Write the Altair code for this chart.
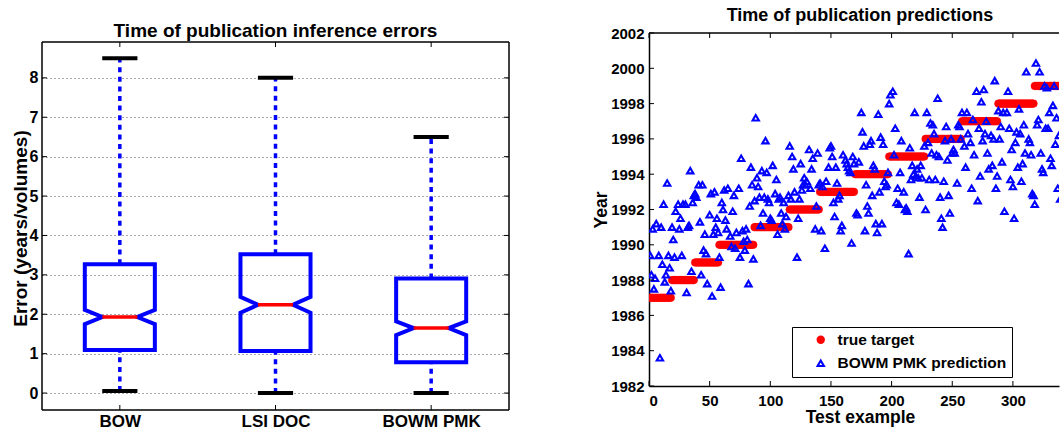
import json
import altair as alt
import pandas as pd

FONT = "Liberation Sans"
BLUE = "#0000ff"
RED = "#ff0000"

# ---------------- Left panel: notched box plot statistics ----------------
methods = ["BOW", "LSI DOC", "BOWM PMK"]
method_pos = [1, 2, 3]
whisker_low = [0.05, 0.0, 0.0]
quart1 = [1.09, 1.07, 0.78]
medians = [1.93, 2.24, 1.65]
quart3 = [3.27, 3.52, 2.91]
whisker_high = [8.5, 8.0, 6.5]
notch_low = [1.75, 2.04, 1.47]
notch_high = [2.11, 2.44, 1.82]
error_ticks = [0, 1, 2, 3, 4, 5, 6, 7, 8]

# ---------------- Right panel: targets and predictions ----------------
series_names = ["true target", "BOWM PMK prediction"]
target_years = [1987, 1988, 1989, 1990, 1991, 1992, 1993, 1994, 1995, 1996, 1997, 1998, 1999]
target_first = [1, 19, 38, 58, 87, 116, 141, 170, 198, 228, 258, 288, 318]
target_last = [18, 37, 57, 86, 115, 140, 169, 197, 227, 257, 287, 317, 348]

pred_x = [
    1, 2, 3, 4, 5, 6, 8, 9, 10, 11, 12, 13, 14, 15, 16, 17, 18, 19, 20, 21,
    22, 24, 25, 26, 27, 28, 30, 31, 32, 33, 34, 35, 36, 37, 38, 39, 41, 42, 43, 44,
    45, 46, 47, 48, 50, 51, 52, 53, 54, 55, 56, 57, 58, 59, 60, 61, 62, 63, 64,
    65, 67, 68, 69, 70, 71, 72, 74, 75, 76, 77, 78, 79, 80, 81, 82, 83, 84, 85, 86, 87, 88, 89, 90, 91,
    92, 93, 94, 95, 96, 97, 98, 99, 100, 101, 102, 104, 105, 106, 107, 108, 109, 110, 111, 112, 113, 115, 116, 117,
    118, 119, 120, 122, 123, 124, 125, 126, 127, 128, 129, 130, 132, 133, 134, 135, 137, 138, 139, 140, 141, 142,
    143, 145, 146, 148, 149, 150, 151, 152, 153, 154, 155, 156, 157, 158, 159, 160, 162, 163, 164, 165, 166, 167, 168, 169, 171, 172,
    173, 175, 176, 177, 178, 179, 180, 181, 182, 183, 184, 185, 186, 187, 188, 189, 190, 191, 192, 193, 194, 195, 196, 197, 198, 199, 201,
    202, 203, 204, 205, 206, 207, 208, 210, 211, 212, 213, 214, 215, 216, 217, 218, 219, 220, 221, 222, 223, 224, 225, 227, 228, 229,
    230, 231, 232, 233, 234, 235, 236, 237, 238, 239, 240, 241, 242, 243, 244, 245, 246, 247, 248, 249, 250, 251, 252, 254, 255, 256, 257, 258,
    260, 261, 262, 263, 265, 266, 267, 268, 270, 271, 272, 273, 274, 275, 276, 277, 278, 279, 280, 282, 283, 284, 285, 286, 287, 288, 289,
    290, 291, 292, 293, 295, 296, 297, 298, 299, 300, 301, 302, 303, 304, 305, 306, 307, 308, 309, 310, 311, 313, 314, 315, 316, 317, 318, 319,
    320, 321, 322, 323, 324, 325, 326, 327, 328, 329, 330, 331, 332, 333, 334, 335, 336, 337, 338, 339,
]
pred_year = [
    1989.4, 1988.3, 1990.9, 1987.5, 1988.1, 1991.2, 1989.4, 1983.6, 1991.0, 1988.9, 1992.3, 1987.9, 1988.3, 1993.5, 1989.4, 1988.7, 1987.4, 1991.0, 1990.3, 1989.3,
    1991.9, 1992.3, 1990.9, 1991.5, 1989.4, 1992.3, 1992.3, 1987.3, 1991.0, 1991.1, 1994.2, 1988.5, 1992.4, 1992.8, 1992.9, 1992.7, 1993.4, 1991.3, 1988.3, 1993.4,
    1989.7, 1990.6, 1989.5, 1987.8, 1991.7, 1992.9, 1987.1, 1990.6, 1993.0, 1991.0, 1991.5, 1990.7, 1989.3, 1987.6, 1992.4, 1992.0, 1993.1, 1991.4, 1990.9,
    1993.2, 1990.5, 1989.9, 1991.9, 1992.8, 1989.8, 1990.7, 1993.2, 1989.3, 1994.9, 1990.8, 1990.2, 1989.7, 1990.9, 1990.3, 1987.8, 1992.2, 1994.4, 1993.4, 1989.2, 1992.5, 1997.2, 1993.8, 1993.3, 1992.7,
    1991.1, 1994.2, 1991.8, 1992.7, 1995.9, 1994.1, 1992.6, 1992.4, 1991.5, 1991.4, 1994.5, 1992.9, 1993.7, 1990.6, 1992.6, 1992.7, 1991.8, 1991.2, 1992.4, 1990.9, 1991.6, 1992.8, 1995.6, 1992.6,
    1995.0, 1994.3, 1993.0, 1989.3, 1991.5, 1992.6, 1994.6, 1993.1, 1993.4, 1993.8, 1993.4, 1993.6, 1995.4, 1993.2, 1994.3, 1994.9, 1990.9, 1992.2, 1995.2, 1993.4, 1993.5, 1990.8,
    1993.3, 1989.8, 1993.6, 1994.4, 1995.5, 1995.6, 1995.0, 1992.4, 1991.6, 1994.4, 1993.5, 1992.6, 1992.8, 1990.8, 1991.1, 1995.1, 1994.8, 1994.6, 1994.4, 1994.2, 1994.1, 1990.1, 1995.0, 1994.6, 1991.8, 1991.7,
    1994.7, 1997.5, 1996.4, 1995.6, 1990.8, 1993.4, 1992.2, 1991.8, 1995.7, 1995.9, 1992.8, 1994.5, 1994.3, 1991.2, 1990.7, 1997.4, 1993.0, 1996.1, 1991.2, 1995.7, 1993.6, 1993.3, 1993.4, 1994.1, 1998.0, 1998.5, 1998.7,
    1995.1, 1996.6, 1992.4, 1993.2, 1992.3, 1994.1, 1995.9, 1993.0, 1992.0, 1992.1, 1991.9, 1989.5, 1995.5, 1993.7, 1994.5, 1994.0, 1997.5, 1993.9, 1994.3, 1993.8, 1992.7, 1994.5, 1993.8, 1995.6, 1992.0, 1997.5,
    1995.8, 1993.7, 1996.9, 1995.2, 1996.8, 1996.3, 1993.7, 1995.1, 1998.3, 1995.0, 1992.7, 1991.5, 1991.0, 1993.6, 1995.9, 1996.7, 1994.8, 1992.8, 1991.8, 1996.0, 1995.2, 1995.4, 1995.2, 1993.5, 1996.8, 1996.7, 1996.0, 1997.5,
    1995.6, 1994.4, 1997.5, 1996.3, 1995.8, 1993.2, 1997.1, 1995.1, 1998.7, 1992.5, 1996.6, 1993.9, 1998.1, 1995.9, 1998.8, 1996.3, 1997.0, 1995.2, 1994.3, 1996.2, 1994.5, 1996.0, 1999.3, 1993.2, 1993.9, 1997.6, 1996.0,
    1996.7, 1994.7, 1997.5, 1991.9, 1997.5, 1998.7, 1996.6, 1993.7, 1995.4, 1993.3, 1991.5, 1995.8, 1996.4, 1994.4, 1997.7, 1996.3, 1993.6, 1994.6, 1996.8, 1995.2, 1999.8, 1996.0, 1995.8, 1995.1, 1992.9, 1992.8, 1992.3, 2000.3,
    1996.8, 1997.1, 1999.8, 1995.2, 1994.3, 1994.1, 1999.0, 1996.6, 1998.9, 1996.6, 1997.5, 1994.9, 1994.5, 1997.9, 1999.0, 1995.7, 1997.2, 1993.2, 1996.2, 1992.6,
]
year_ticks = list(range(1982, 2003, 2))
example_ticks = [0, 50, 100, 150, 200, 250, 300]

# ---------------- styling constants ----------------
LW = 467
TOPGAP = 9            # left box starts 9 px below the right panel's top
LH = 368 + TOPGAP     # left panel drawing height
RW, RH = 410, 353
BOX_HW = 0.225
NOTCH_HW = 0.1125
CAP_HW = 0.113
NBSP = "\u00a0"
one = pd.DataFrame({"k": [0]})

# ======================= LEFT PANEL =======================
ylo, yhi = -0.43, 8.91
yhi_ext = yhi + TOPGAP * (yhi - ylo) / (LH - TOPGAP)
xs_left = alt.Scale(domain=[0.5, 3.5], nice=False, zero=False)
ys_left = alt.Scale(domain=[ylo, yhi_ext], nice=False, zero=False)
X_L = alt.X("x:Q", scale=xs_left, axis=alt.Axis(
    values=method_pos, labelExpr=json.dumps(methods) + "[datum.value - 1]",
    title=None, grid=False, ticks=False, domain=False,
    labelFontSize=17, labelPadding=3, labelBaseline="top"))
Y_L = alt.Y("y:Q", scale=ys_left, axis=alt.Axis(
    values=error_ticks, grid=True, gridDash=[1, 3], gridColor="#555555", gridWidth=1,
    ticks=False, domain=False, labelFontSize=16, labelPadding=4,
    title="Error (years/volumes)", titleX=-21.5, titleY=186 + TOPGAP, titleAngle=270,
    titleBaseline="middle", titleAlign="center", titleFontSize=19))

box_rows = []
for m, p, a, b, md, c, d in zip(methods, method_pos, quart1, notch_low, medians, notch_high, quart3):
    verts = [(p - BOX_HW, a), (p + BOX_HW, a), (p + BOX_HW, b), (p + NOTCH_HW, md),
             (p + BOX_HW, c), (p + BOX_HW, d), (p - BOX_HW, d), (p - BOX_HW, c),
             (p - NOTCH_HW, md), (p - BOX_HW, b), (p - BOX_HW, a)]
    for k, (vx, vy) in enumerate(verts):
        box_rows.append({"m": m, "o": k, "x": vx, "y": vy})
box_df = pd.DataFrame(box_rows)

whisk_df = pd.DataFrame({"x": method_pos * 2, "y": quart3 + whisker_low, "y2": whisker_high + quart1})
cap_df = pd.DataFrame({"x": [p - CAP_HW for p in method_pos] * 2,
                       "x2": [p + CAP_HW for p in method_pos] * 2,
                       "y": whisker_high + whisker_low})
med_df = pd.DataFrame({"x": [p - NOTCH_HW for p in method_pos],
                       "x2": [p + NOTCH_HW for p in method_pos], "y": medians})
ytick_df = pd.DataFrame({"y": error_ticks})
xtick_df = pd.DataFrame({"x": method_pos})

whiskers = alt.Chart(whisk_df).mark_rule(color=BLUE, strokeWidth=3.5, strokeDash=[5, 4.6]).encode(
    x=X_L, y=Y_L, y2="y2:Q")
caps = alt.Chart(cap_df).mark_rule(color="black", strokeWidth=4).encode(x=X_L, x2="x2:Q", y=Y_L)
boxes = alt.Chart(box_df).mark_line(color=BLUE, strokeWidth=4, strokeJoin="miter", strokeCap="square").encode(
    x=X_L, y=Y_L, order="o:Q", detail="m:N")
meds = alt.Chart(med_df).mark_rule(color=RED, strokeWidth=3.5).encode(x=X_L, x2="x2:Q", y=Y_L)

frame_kw = dict(color="black", strokeWidth=1.5)
frame_top = alt.Chart(one).mark_rule(**frame_kw).encode(x=alt.value(0), x2=alt.value(LW), y=alt.value(TOPGAP))
frame_bot = alt.Chart(one).mark_rule(**frame_kw).encode(x=alt.value(0), x2=alt.value(LW), y=alt.value(LH))
frame_lft = alt.Chart(one).mark_rule(**frame_kw).encode(x=alt.value(0), y=alt.value(TOPGAP), y2=alt.value(LH))
frame_rgt = alt.Chart(one).mark_rule(**frame_kw).encode(x=alt.value(LW), y=alt.value(TOPGAP), y2=alt.value(LH))

lt_left = alt.Chart(ytick_df).mark_rule(color="black", strokeWidth=1).encode(
    y=Y_L, x=alt.value(0), x2=alt.value(5))
lt_right = alt.Chart(ytick_df).mark_rule(color="black", strokeWidth=1).encode(
    y=Y_L, x=alt.value(LW - 5), x2=alt.value(LW))
lt_top = alt.Chart(xtick_df).mark_rule(color="black", strokeWidth=1).encode(
    x=X_L, y=alt.value(TOPGAP), y2=alt.value(TOPGAP + 5))
lt_bot = alt.Chart(xtick_df).mark_rule(color="black", strokeWidth=1).encode(
    x=X_L, y=alt.value(LH - 5), y2=alt.value(LH))
left_title = alt.Chart(one).mark_text(
    text="Time of publication inference errors", font=FONT, fontSize=19, fontWeight="bold",
    align="center", baseline="alphabetic", color="black").encode(
    x=alt.value(LW / 2), y=alt.value(TOPGAP - 5.5))
spacer_l1 = alt.Chart(one).mark_text(text=".", fontSize=1, opacity=0, align="left", baseline="top").encode(
    x=alt.value(-42), y=alt.value(-33))
spacer_l2 = alt.Chart(one).mark_text(text=".", fontSize=1, opacity=0, align="left", baseline="top").encode(
    x=alt.value(LW + 9), y=alt.value(20))

left = alt.layer(whiskers, caps, boxes, meds, frame_top, frame_bot, frame_lft, frame_rgt,
                 lt_left, lt_right, lt_top, lt_bot, left_title, spacer_l1, spacer_l2).properties(
    width=LW, height=LH,
    view=alt.ViewBackground(strokeOpacity=0, fill="white"))

# ======================= RIGHT PANEL =======================
target_rows = []
for yr, a, b in zip(target_years, target_first, target_last):
    for i in range(a, b + 1):
        target_rows.append({"x": i, "y": yr, "s": series_names[0]})
target_df = pd.DataFrame(target_rows)
pred_df = pd.DataFrame({"x": pred_x, "y": pred_year, "s": series_names[1]})

X_R = alt.X("x:Q", scale=alt.Scale(domain=[0, 338], nice=False, zero=False), axis=alt.Axis(
    values=example_ticks, title="Test example", titleX=211, titleY=31, titleBaseline="middle",
    titleAlign="center", titleFontSize=17.5, labelFontSize=15, labelPadding=7,
    ticks=False, domain=True, domainColor="black", domainWidth=1.5, grid=False))
Y_R = alt.Y("y:Q", scale=alt.Scale(domain=[1982, 2002], nice=False, zero=False), axis=alt.Axis(
    values=year_ticks, format="d", title="Year", titleX=-48, titleY=176.5, titleAngle=270,
    titleBaseline="middle", titleAlign="center", titleFontSize=17.5, labelFontSize=15,
    labelPadding=5, ticks=False, domain=True, domainColor="black", domainWidth=1.5, grid=False))

# legend coordinates are relative to the left panel's origin (root of the layout)
legend = alt.Legend(
    title=None, orient="none", legendX=750, legendY=294, direction="vertical",
    strokeColor="black", fillColor="white", padding=5, symbolOffset=16,
    labelFontSize=15.5, labelFont=FONT, labelFontWeight="bold", labelColor="black",
    labelLimit=400, symbolSize=40, rowPadding=6.5, labelOffset=9,
    symbolStrokeWidth=2.1, symbolOpacity=1,
    labelExpr="datum.label + '" + NBSP * 4 + "'")
FILL = alt.Fill("s:N", scale=alt.Scale(domain=series_names, range=[RED, "transparent"]), legend=legend)
STROKE = alt.Stroke("s:N", scale=alt.Scale(domain=series_names, range=[RED, BLUE]), legend=legend)
SHAPE = alt.Shape("s:N", scale=alt.Scale(domain=series_names, range=["circle", "triangle-up"]), legend=legend)

targets = alt.Chart(target_df).mark_point(size=58, strokeWidth=0.5, opacity=1, clip=True).encode(
    x=X_R, y=Y_R, fill=FILL, stroke=STROKE, shape=SHAPE)
preds = alt.Chart(pred_df).mark_point(size=40, strokeWidth=2.1, opacity=1, clip=True).encode(
    x=X_R, y=Y_R, fill=FILL, stroke=STROKE, shape=SHAPE)

yt_df = pd.DataFrame({"y": year_ticks})
xt_df = pd.DataFrame({"x": example_ticks})
top_border = alt.Chart(one).mark_rule(color="black", strokeWidth=1.5).encode(
    x=alt.value(0), x2=alt.value(RW), y=alt.value(0))
rt_left = alt.Chart(yt_df).mark_rule(color="black", strokeWidth=1).encode(
    y=Y_R, x=alt.value(0), x2=alt.value(5))
rt_top = alt.Chart(xt_df).mark_rule(color="black", strokeWidth=1).encode(
    x=X_R, y=alt.value(0), y2=alt.value(5))
rt_bot = alt.Chart(xt_df).mark_rule(color="black", strokeWidth=1).encode(
    x=X_R, y=alt.value(RH - 5), y2=alt.value(RH))
right_title = alt.Chart(one).mark_text(
    text="Time of publication predictions", font=FONT, fontSize=18, fontWeight="bold",
    align="center", baseline="alphabetic", color="black").encode(x=alt.value(211), y=alt.value(-12))
spacer_r = alt.Chart(one).mark_text(text=".", fontSize=1, opacity=0, align="left", baseline="top").encode(
    x=alt.value(-60), y=alt.value(-33))

right = alt.layer(targets, preds, top_border, rt_left, rt_top, rt_bot, right_title, spacer_r).properties(
    width=RW, height=RH,
    view=alt.ViewBackground(strokeOpacity=0, fill="white"))

chart = alt.hconcat(left, right, spacing=70).properties(
    padding=0, background="white"
).configure_axis(
    labelFont=FONT, titleFont=FONT, labelFontWeight="bold", titleFontWeight="bold",
    labelColor="black", titleColor="black"
)

chart.save("out.html", embed_options={"renderer": "svg", "actions": False})
